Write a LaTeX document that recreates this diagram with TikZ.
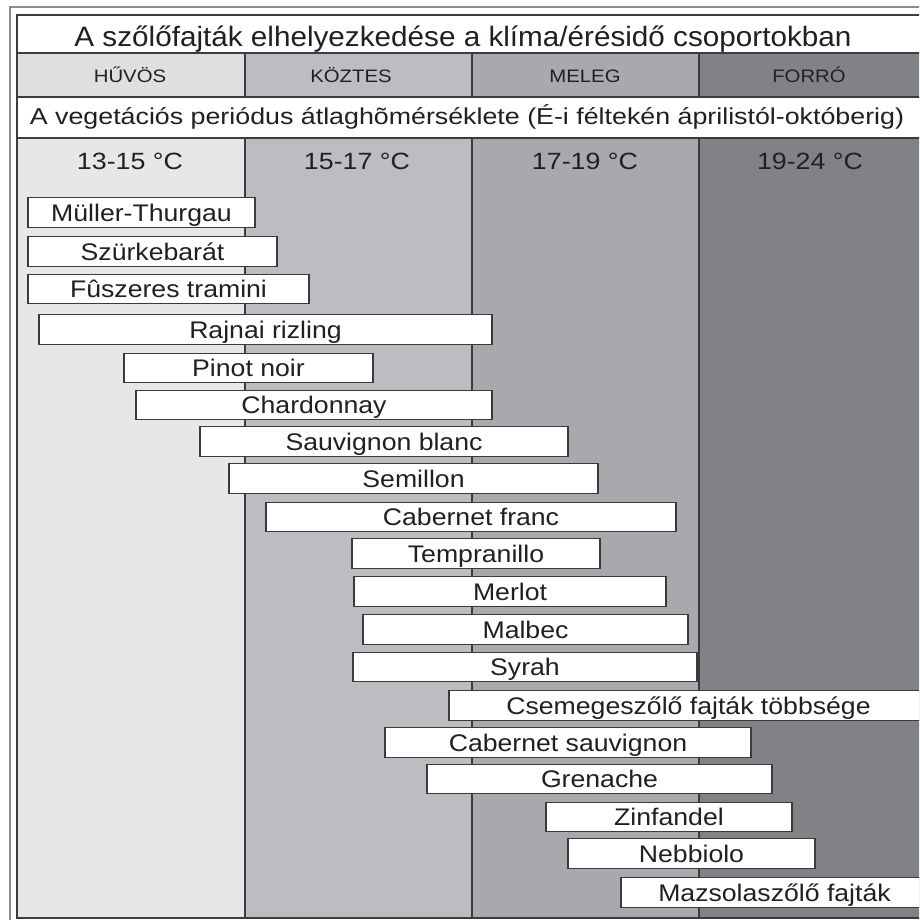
\documentclass[tikz,border=0pt]{standalone}
\usepackage{fontspec}
\usepackage{graphicx}
\setmainfont{Liberation Sans}
\definecolor{cHv}{HTML}{E6E7E8}
\definecolor{cHvH}{HTML}{DEDFE0}
\definecolor{cKz}{HTML}{BCBDC0}
\definecolor{cMl}{HTML}{A7A9AC}
\definecolor{cFo}{HTML}{808285}
\definecolor{txt}{HTML}{231F20}
\definecolor{gridc}{HTML}{3C3C3E}
\definecolor{outc}{HTML}{8C8C8E}
\definecolor{barc}{HTML}{3A3A3C}
\newcommand\hsc[2]{\scalebox{#1}[1]{#2}}
\newcommand\grbar[5]{\node[barbox, minimum width={(#3-#2)*1pt}] (#1) at ({(#2+#3)/2},#4) {\hsc{1.11}{#5}};}
\tikzset{
  gridline/.style={draw=gridc, line width=2pt},
  outerline/.style={draw=outc, line width=1.5pt},
  barbox/.style={draw=barc, line width=1.4pt, fill=white, inner sep=0pt, minimum height=29.5pt,
    text height=17pt, text depth=0pt, text=txt, font=\fontsize{24}{28}\selectfont},
  titletext/.style={anchor=base, inner sep=0pt, text=txt, font=\fontsize{28}{32}\selectfont},
  headtext/.style={anchor=base, inner sep=0pt, text=txt, font=\fontsize{18}{22}\selectfont},
  subtext/.style={anchor=base, inner sep=0pt, text=txt, font=\fontsize{23}{27}\selectfont},
  temptext/.style={anchor=base, inner sep=0pt, text=txt, font=\fontsize{23.5}{27}\selectfont},
}
\begin{document}
\begin{tikzpicture}[x=1pt,y=-1pt]
\useasboundingbox (0,0) rectangle (919,920);
\clip (0,0) rectangle (919,920);
\fill[white] (0,0) rectangle (919,920);
% column bodies
\fill[cHv] (17,138) rectangle (245,918);
\fill[cKz] (245,138) rectangle (472,918);
\fill[cMl] (472,138) rectangle (699,918);
\fill[cFo] (699,138) rectangle (930,918);
% header row
\fill[cHvH] (17,53) rectangle (245,97);
\fill[cKz] (245,53) rectangle (472,97);
\fill[cMl] (472,53) rectangle (699,97);
\fill[cFo] (699,53) rectangle (930,97);
% grid lines
\draw[gridline] (17,15) -- (930,15);
\draw[gridline] (17,53) -- (930,53);
\draw[gridline] (17,97) -- (930,97);
\draw[gridline] (17,138) -- (930,138);
\draw[gridline] (17,918) -- (930,918);
\draw[gridline] (17,14) -- (17,919);
\foreach \x in {245,472,699} {
  \draw[gridline] (\x,53) -- (\x,97);
  \draw[gridline] (\x,138) -- (\x,918);
}
\draw[outerline] (10,925) -- (10,7) -- (930,7);
% texts
\node[titletext] (title) at (463,47) {\hsc{1.06}{A szőlőfajták elhelyezkedése a klíma/érésidő csoportokban}};
\node[headtext] (h1) at (130,83) {\hsc{1.13}{HŰVÖS}};
\node[headtext] (h2) at (351,83) {\hsc{1.13}{KÖZTES}};
\node[headtext] (h3) at (585,83) {\hsc{1.13}{MELEG}};
\node[headtext] (h4) at (809,83) {\hsc{1.13}{FORRÓ}};
\node[subtext] (sub) at (467,125) {\hsc{1.165}{A vegetációs periódus átlaghõmérséklete (É-i féltekén áprilistól-októberig)}};
\node[temptext] (t1) at (130,170) {\hsc{1.14}{13-15 °C}};
\node[temptext] (t2) at (357,170) {\hsc{1.14}{15-17 °C}};
\node[temptext] (t3) at (585,170) {\hsc{1.14}{17-19 °C}};
\node[temptext] (t4) at (810,170) {\hsc{1.14}{19-24 °C}};
% bars
\grbar{b1}{28}{255}{212.5}{Müller-Thurgau}
\grbar{b2}{28}{277}{251.5}{Szürkebarát}
\grbar{b3}{28}{309}{289}{Fûszeres tramini}
\grbar{b4}{39}{492}{329.5}{Rajnai rizling}
\grbar{b5}{124}{373}{368}{Pinot noir}
\grbar{b6}{136}{492}{405}{Chardonnay}
\grbar{b7}{200}{568}{441.5}{Sauvignon blanc}
\grbar{b8}{229}{598}{478.5}{Semillon}
\grbar{b9}{266}{676}{517}{Cabernet franc}
\grbar{b10}{352}{600}{553.5}{Tempranillo}
\grbar{b11}{354}{666}{591.5}{Merlot}
\grbar{b12}{363}{688}{629.5}{Malbec}
\grbar{b13}{353}{697}{667}{Syrah}
\grbar{b14}{449}{928}{705.5}{Csemegeszőlő fajták többsége}
\grbar{b15}{385}{751}{742.5}{Cabernet sauvignon}
\grbar{b16}{427}{772}{779}{Grenache}
\grbar{b17}{546}{792}{817}{Zinfandel}
\grbar{b18}{568}{815}{853.5}{Nebbiolo}
\grbar{b19}{621}{928}{892.5}{Mazsolaszőlő fajták}
\end{tikzpicture}
\end{document}
